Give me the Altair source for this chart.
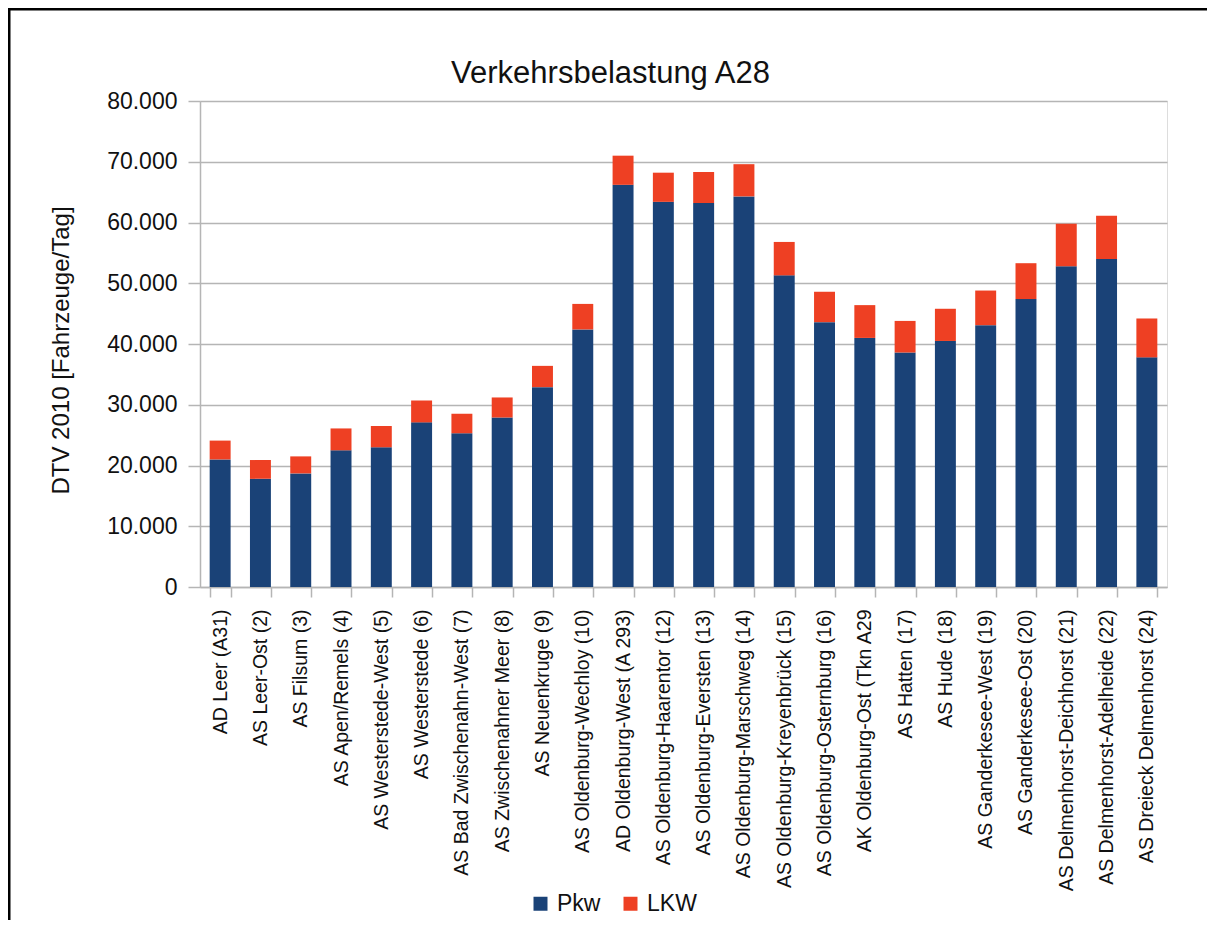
import altair as alt
import pandas as pd

categories = [
    "AD Leer (A31)",
    "AS Leer-Ost (2)",
    "AS Filsum (3)",
    "AS Apen/Remels (4)",
    "AS Westerstede-West (5)",
    "AS Westerstede (6)",
    "AS Bad Zwischenahn-West (7)",
    "AS Zwischenahner Meer (8)",
    "AS Neuenkruge (9)",
    "AS Oldenburg-Wechloy (10)",
    "AD Oldenburg-West (A 293)",
    "AS Oldenburg-Haarentor (12)",
    "AS Oldenburg-Eversten (13)",
    "AS Oldenburg-Marschweg (14)",
    "AS Oldenburg-Kreyenbrück (15)",
    "AS Oldenburg-Osternburg (16)",
    "AK Oldenburg-Ost (Tkn A29",
    "AS Hatten (17)",
    "AS Hude (18)",
    "AS Ganderkesee-West (19)",
    "AS Ganderkesee-Ost (20)",
    "AS Delmenhorst-Deichhorst (21)",
    "AS Delmenhorst-Adelheide (22)",
    "AS Dreieck Delmenhorst (24)",
]

pkw = [21000, 17800, 18700, 22500, 23000, 27100, 25300, 27900, 32900, 42400,
       66200, 63400, 63200, 64300, 51300, 43600, 41000, 38600, 40500, 43100,
       47400, 52800, 54000, 37800]

lkw = [3100, 3100, 2800, 3600, 3500, 3600, 3200, 3300, 3500, 4200,
       4800, 4800, 5100, 5300, 5500, 5000, 5400, 5200, 5300, 5700,
       5900, 7000, 7100, 6400]

series = ["Pkw", "LKW"]
series_colors = ["#1a4277", "#ee4023"]
y_ticks = [0, 10000, 20000, 30000, 40000, 50000, 60000, 70000, 80000]

rows = []
for i, c in enumerate(categories):
    rows.append({"Abschnitt": c, "Typ": "Pkw", "Wert": pkw[i], "ord": 0})
    rows.append({"Abschnitt": c, "Typ": "LKW", "Wert": lkw[i], "ord": 1})
df = pd.DataFrame(rows)

FONT = "Liberation Sans"
GRID = "#b5b5b5"
TEXT = "#111111"

bars = alt.Chart(df).mark_bar().encode(
    x=alt.X(
        "Abschnitt:N",
        sort=categories,
        scale=alt.Scale(paddingInner=0.48, paddingOuter=0.24),
        axis=alt.Axis(
            title=None,
            labelAngle=-90,
            labelAlign="right",
            labelBaseline="middle",
            labelFont=FONT,
            labelFontSize=19.5,
            labelColor=TEXT,
            labelLimit=0,
            labelPadding=12,
            tickBand="extent",
            tickSize=10,
            tickColor=GRID,
            tickWidth=1.5,
            domainColor=GRID,
            domainWidth=1.5,
            grid=False,
        ),
    ),
    y=alt.Y(
        "Wert:Q",
        stack="zero",
        scale=alt.Scale(domain=[0, 80000], nice=False),
        axis=alt.Axis(
            values=y_ticks,
            labelExpr="replace(format(datum.value, ','), ',', '.')",
            labelFont=FONT,
            labelFontSize=23,
            labelColor=TEXT,
            labelPadding=11,
            tickSize=12,
            tickColor=GRID,
            tickWidth=1.5,
            domainColor=GRID,
            domainWidth=1.5,
            grid=True,
            gridColor=GRID,
            gridWidth=1.5,
            title="DTV 2010 [Fahrzeuge/Tag]",
            titleFont=FONT,
            titleFontSize=24,
            titleFontWeight="normal",
            titleColor=TEXT,
            titleX=-139,
            titleY=249,
            titleAlign="center",
            titleBaseline="middle",
        ),
    ),
    color=alt.Color(
        "Typ:N",
        scale=alt.Scale(domain=series, range=series_colors),
        legend=alt.Legend(
            title=None,
            orient="none",
            legendX=329,
            legendY=791,
            direction="horizontal",
            symbolType="square",
            symbolSize=196,
            symbolStrokeWidth=0,
            symbolOpacity=1,
            labelFont=FONT,
            labelFontSize=23,
            labelColor=TEXT,
            labelOffset=5,
            columnPadding=18,
        ),
    ),
    order=alt.Order("ord:Q"),
)

frame_df = pd.DataFrame({"k": [0]})
left_line = alt.Chart(frame_df).mark_rule(color="black", strokeWidth=3).encode(
    x=alt.value(-191), y=alt.value(-92), y2=alt.value(900)
)
top_line = alt.Chart(frame_df).mark_rule(color="black", strokeWidth=3).encode(
    x=alt.value(-192), x2=alt.value(1100), y=alt.value(-92)
)

chart = alt.layer(left_line, top_line, bars).properties(
    width=967,
    height=486,
    padding={"left": 192, "top": 93, "right": 40, "bottom": 333},
    autosize=alt.AutoSizeParams(type="none"),
    title=alt.Title(
        "Verkehrsbelastung A28",
        font=FONT,
        fontSize=31,
        fontWeight="normal",
        color=TEXT,
        anchor="middle",
        dx=-73,
        dy=90,
        offset=8,
    ),
).configure_view(stroke=GRID, strokeWidth=1.5).configure(background="white")

chart.save("out.html", embed_options={"renderer": "svg", "actions": False})
